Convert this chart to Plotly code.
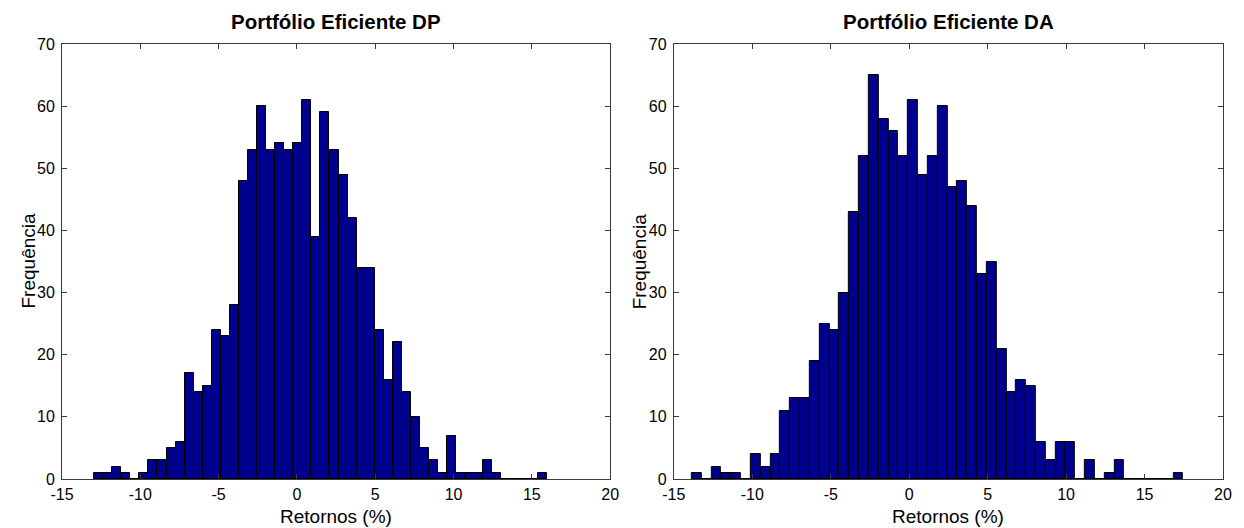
import plotly.graph_objects as go

# ---- data ----
counts_dp = [1, 1, 2, 1, 0, 1, 3, 3, 5, 6,
             17, 14, 15, 24, 23, 28, 48, 53, 60, 53,
             54, 53, 54, 61, 39, 59, 53, 49, 42, 34,
             34, 24, 16, 22, 14, 10, 5, 3, 1, 7,
             1, 1, 1, 3, 1, 0, 0, 0, 0, 1]
bin_start_dp = -12.95
bin_width_dp = 0.578

counts_da = [1, 0, 2, 1, 1, 0, 4, 2, 4, 11,
             13, 13, 19, 25, 24, 30, 43, 52, 65, 58,
             56, 52, 61, 49, 52, 60, 47, 48, 44, 33,
             35, 21, 14, 16, 15, 6, 3, 6, 6, 0,
             3, 0, 1, 3, 0, 0, 0, 0, 0, 1]
bin_start_da = -13.86
bin_width_da = 0.6266

titles = ["Portfólio Eficiente DP", "Portfólio Eficiente DA"]
x_label = "Retornos (%)"
y_label = "Frequência"
x_ticks = [-15, -10, -5, 0, 5, 10, 15, 20]
y_ticks = [0, 10, 20, 30, 40, 50, 60, 70]

BAR = "rgb(0,0,143)"
FONT = "Liberation Sans, Arial, sans-serif"
AX = "#3a3a3a"

fig = go.Figure()

def centers(start, w, n):
    return [start + w * (i + 0.5) for i in range(n)]

for k, (counts, start, w) in enumerate([(counts_dp, bin_start_dp, bin_width_dp),
                                         (counts_da, bin_start_da, bin_width_da)]):
    fig.add_trace(go.Bar(
        x=centers(start, w, len(counts)), y=counts, width=w,
        marker=dict(color=BAR, line=dict(color="black", width=1)),
        xaxis="x" if k == 0 else "x2", yaxis="y" if k == 0 else "y2",
        showlegend=False, hoverinfo="x+y"))

W, H = 1244, 528
ml, mr, mt, mb = 62, 15, 44, 49
pw = W - ml - mr
d1 = [0, (613 - ml) / pw]
d2 = [(677 - ml) / pw, 1]

def xax(dom, anchor):
    return dict(domain=dom, anchor=anchor, range=[-15, 20], tickvals=x_ticks,
                ticktext=[str(v) for v in x_ticks], ticks="inside", ticklen=5,
                tickcolor=AX, showline=True, linecolor=AX, linewidth=1, mirror="ticks",
                showgrid=False, zeroline=False, ticklabelstandoff=1,
                tickfont=dict(family=FONT, size=16, color="black"))

def yax(anchor):
    return dict(anchor=anchor, domain=[0, 1], range=[0, 70], tickvals=y_ticks, ticks="inside",
                ticklen=5, tickcolor=AX, showline=True, linecolor=AX, linewidth=1,
                mirror="ticks", showgrid=False, zeroline=False, ticklabelstandoff=3,
                tickfont=dict(family=FONT, size=16, color="black"))

annotations = []
for dom, title in [(d1, titles[0]), (d2, titles[1])]:
    cx = (dom[0] + dom[1]) / 2
    annotations.append(dict(text="<b>%s</b>" % title, x=cx, y=1, xref="paper", yref="paper",
                            xanchor="center", yanchor="middle", yshift=(mt - 21),
                            showarrow=False, font=dict(family=FONT, size=20.5, color="black")))
    annotations.append(dict(text=x_label, x=cx, y=0, xref="paper", yref="paper",
                            xanchor="center", yanchor="middle", yshift=-(516 - (H - mb)),
                            showarrow=False, font=dict(family=FONT, size=19, color="black")))
    annotations.append(dict(text=y_label, x=dom[0], y=0.5, xref="paper", yref="paper",
                            xanchor="center", yanchor="middle", xshift=-34, textangle=-90,
                            showarrow=False, font=dict(family=FONT, size=19, color="black")))

fig.update_layout(
    width=W, height=H, autosize=False,
    margin=dict(l=ml, r=mr, t=mt, b=mb),
    paper_bgcolor="white", plot_bgcolor="white",
    bargap=0,
    xaxis=xax(d1, "y"), yaxis=yax("x"),
    xaxis2=xax(d2, "y2"), yaxis2=yax("x2"),
    annotations=annotations,
)

fig.write_html("out.html")
